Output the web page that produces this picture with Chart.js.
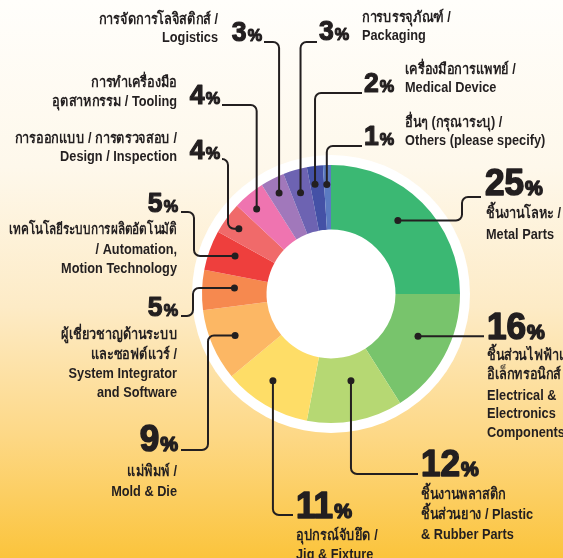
<!DOCTYPE html>
<html>
<head>
<meta charset="utf-8">
<script src="https://cdn.jsdelivr.net/npm/chart.js@4/dist/chart.umd.min.js"></script>
<style>
html,body{margin:0;padding:0;overflow:hidden;background:#fff;}
canvas{display:block;}
</style>
</head>
<body>
<canvas id="c" width="563" height="558"></canvas>
<script>
// ---- data ----
const categories = [
  'Metal Parts', 'Electrical & Electronics Components', 'Plastic & Rubber Parts',
  'Jig & Fixture', 'Mold & Die', 'System Integrator and Software',
  'Automation, Motion Technology', 'Design / Inspection', 'Tooling',
  'Logistics', 'Packaging', 'Medical Device', 'Others (please specify)'
];
const values = [25, 16, 12, 11, 9, 5, 5, 4, 4, 3, 3, 2, 1];
const sliceColors = [
  '#3bb873', '#78c46c', '#b6d873', '#fedd67', '#fcb764', '#f6894f',
  '#ee3f3d', '#f06a6a', '#ef74b0', '#a178bb', '#6d63b2', '#4451a6', '#5b7bc2'
];
const labelLines = [
  ['ชิ้นงานโลหะ /', 'Metal Parts'],
  ['ชิ้นส่วนไฟฟ้าและ', 'อิเล็กทรอนิกส์ /', 'Electrical &', 'Electronics', 'Components'],
  ['ชิ้นงานพลาสติก', 'ชิ้นส่วนยาง / Plastic', '& Rubber Parts'],
  ['อุปกรณ์จับยึด /', 'Jig & Fixture'],
  ['แม่พิมพ์ /', 'Mold & Die'],
  ['ผู้เชี่ยวชาญด้านระบบ', 'และซอฟต์แวร์ /', 'System Integrator', 'and Software'],
  ['เทคโนโลยีระบบการผลิตอัตโนมัติ', '/ Automation,', 'Motion Technology'],
  ['การออกแบบ / การตรวจสอบ /', 'Design / Inspection'],
  ['การทำเครื่องมือ', 'อุตสาหกรรม / Tooling'],
  ['การจัดการโลจิสติกส์ /', 'Logistics'],
  ['การบรรจุภัณฑ์ /', 'Packaging'],
  ['เครื่องมือการแพทย์ /', 'Medical Device'],
  ['อื่นๆ (กรุณาระบุ) /', 'Others (please specify)']
];

// ---- layout of callouts (positions only) ----
const callouts = [
  {num:{x:485,y:195,al:'left',big:true},  txt:{x:486,al:'left',ys:[218,239]}, dot:{t:0.47,r:0.77}, path:[['d','d'],[462,'d'],[462,197],[481,197]]},
  {num:{x:487,y:339,al:'left',big:true},  txt:{x:487,al:'left',ys:[360,379,400,418,437]}, dot:{t:0.45,r:0.75}, path:[['d','d'],[484,'d']]},
  {num:{x:421,y:476,al:'left',big:true},  txt:{x:421,al:'left',ys:[499,519,539]}, dot:{t:0.45,r:0.69}, path:[['d','d'],['d',474],[418,474]]},
  {num:{x:296,y:518,al:'left',big:true},  txt:{x:296,al:'left',ys:[540,559]}, dot:{t:0.58,r:0.81}, path:[['d','d'],['d',515],[293,515]]},
  {num:{x:178,y:451,al:'right',big:true}, txt:{x:177,al:'right',ys:[476,496]}, dot:{t:0.5,r:0.81}, path:[['d','d'],[208,'d'],[208,450],[181,450]]},
  {num:{x:178,y:316,al:'right',big:false},txt:{x:177,al:'right',ys:[339,359,378,397]}, dot:{t:0.6,r:0.75}, path:[['d','d'],[193,'d'],[193,316],[181,316]]},
  {num:{x:178,y:212,al:'right',big:false},txt:{x:177,al:'right',ys:[234,254,273]}, dot:{t:0.6,r:0.80}, path:[['d','d'],[194,'d'],[194,212],[181,212]]},
  {num:{x:220,y:159,al:'right',big:false},txt:{x:177,al:'right',ys:[143,161]}, dot:{t:0.45,r:0.875}, path:[['d','d'],[228,'d'],[228,159],[222,159]]},
  {num:{x:220,y:104,al:'right',big:false},txt:{x:177,al:'right',ys:[87,106]}, dot:{t:0.39,r:0.875}, path:[['d','d'],['d',105],[222,105]]},
  {num:{x:262,y:41,al:'right',big:false}, txt:{x:218,al:'right',ys:[24,42]}, dot:{t:0.48,r:0.88}, path:[['d','d'],['d',42],[264,42]]},
  {num:{x:319,y:40,al:'left',big:false},  txt:{x:362,al:'left',ys:[22,40]}, dot:{t:0.45,r:0.82}, path:[['d','d'],['d',42],[317,42]]},
  {num:{x:364,y:92,al:'left',big:false},  txt:{x:405,al:'left',ys:[74,92]}, dot:{t:0.35,r:0.86}, path:[['d','d'],['d',93],[362,93]]},
  {num:{x:364,y:145,al:'left',big:false}, txt:{x:405,al:'left',ys:[127,145]}, dot:{t:0.39,r:0.85}, path:[['d','d'],['d',146],[362,146]]}
];

const INK = '#231f20';
const NUM_FAMILY = '"Liberation Sans", Arial, sans-serif';
const TXT_FONT = 'bold 15px "Liberation Sans Narrow", "Liberation Sans", "Noto Sans", sans-serif';
const TXT_SCALE_X = 0.85;
const TXT_MAX_W = 168;

const bgPlugin = {
  id: 'bg',
  beforeDraw(chart) {
    const ctx = chart.ctx, w = chart.width, h = chart.height;
    ctx.save();
    const g = ctx.createLinearGradient(0, 0, 0, h);
    g.addColorStop(0, '#fffefb');
    g.addColorStop(0.3, '#fef8eb');
    g.addColorStop(0.55, '#fdebc6');
    g.addColorStop(0.78, '#fdd886');
    g.addColorStop(1, '#fbc43c');
    ctx.fillStyle = g;
    ctx.fillRect(0, 0, w, h);
    ctx.restore();
  },
  beforeDatasetsDraw(chart) {
    const arc = chart.getDatasetMeta(0).data[0];
    if (!arc) return;
    const ctx = chart.ctx;
    ctx.save();
    ctx.fillStyle = '#ffffff';
    ctx.beginPath();
    ctx.arc(arc.x, arc.y, arc.outerRadius + 10, 0, Math.PI * 2);
    ctx.fill();
    ctx.restore();
  }
};

function drawNumber(ctx, c, value) {
  const big = c.num.big;
  const sx = 0.95;
  const dFont = 'bold ' + (big ? 37 : 28) + 'px ' + NUM_FAMILY;
  const pFont = 'bold ' + (big ? 21 : 17) + 'px ' + NUM_FAMILY;
  const digits = String(value), pct = '%';
  ctx.font = dFont; const dw = ctx.measureText(digits).width * sx;
  ctx.font = pFont; const pw = ctx.measureText(pct).width * sx;
  const gap = 1;
  const x0 = c.num.al === 'left' ? c.num.x : c.num.x - dw - gap - pw;
  ctx.save();
  ctx.fillStyle = INK; ctx.strokeStyle = INK;
  ctx.textAlign = 'left'; ctx.textBaseline = 'alphabetic';
  ctx.translate(x0, c.num.y); ctx.scale(sx, 1);
  ctx.lineWidth = big ? 1.6 : 1.2;
  ctx.font = dFont;
  ctx.fillText(digits, 0, 0); ctx.strokeText(digits, 0, 0);
  ctx.font = pFont;
  ctx.fillText(pct, (dw + gap) / sx, 0); ctx.strokeText(pct, (dw + gap) / sx, 0);
  ctx.restore();
}

function drawLine(ctx, text, x, y, align) {
  ctx.save();
  ctx.translate(x, y); ctx.scale(TXT_SCALE_X, 1);
  ctx.textAlign = align; ctx.textBaseline = 'alphabetic';
  ctx.fillText(text, 0, 0, TXT_MAX_W / TXT_SCALE_X);
  ctx.restore();
}

const calloutPlugin = {
  id: 'callouts',
  afterDatasetsDraw(chart) {
    const ctx = chart.ctx;
    const meta = chart.getDatasetMeta(0);
    ctx.save();
    meta.data.forEach((arc, i) => {
      const c = callouts[i];
      const a = arc.startAngle + c.dot.t * (arc.endAngle - arc.startAngle);
      const r = c.dot.r * arc.outerRadius;
      const dx = arc.x + r * Math.cos(a), dy = arc.y + r * Math.sin(a);
      const pts = c.path.map(p => [p[0] === 'd' ? dx : p[0], p[1] === 'd' ? dy : p[1]]);
      ctx.strokeStyle = INK; ctx.lineWidth = 2; ctx.lineJoin = 'round'; ctx.lineCap = 'butt';
      ctx.beginPath();
      ctx.moveTo(pts[0][0], pts[0][1]);
      for (let k = 1; k < pts.length - 1; k++) {
        ctx.arcTo(pts[k][0], pts[k][1], pts[k + 1][0], pts[k + 1][1], 6);
      }
      ctx.lineTo(pts[pts.length - 1][0], pts[pts.length - 1][1]);
      ctx.stroke();
      ctx.fillStyle = INK;
      ctx.beginPath(); ctx.arc(dx, dy, 3.5, 0, Math.PI * 2); ctx.fill();
      drawNumber(ctx, c, values[i]);
      ctx.font = TXT_FONT; ctx.fillStyle = INK;
      labelLines[i].forEach((line, k) => drawLine(ctx, line, c.txt.x, c.txt.ys[k], c.txt.al));
    });
    ctx.restore();
  }
};

new Chart(document.getElementById('c'), {
  type: 'doughnut',
  data: {
    labels: categories,
    datasets: [{
      data: values,
      backgroundColor: sliceColors,
      borderWidth: 0,
      hoverOffset: 0
    }]
  },
  options: {
    responsive: false,
    animation: false,
    cutout: '50%',
    layout: { padding: { left: 202, right: 103, top: 165, bottom: 135 } },
    plugins: { legend: { display: false }, tooltip: { enabled: false } }
  },
  plugins: [bgPlugin, calloutPlugin]
});
</script>
</body>
</html>
